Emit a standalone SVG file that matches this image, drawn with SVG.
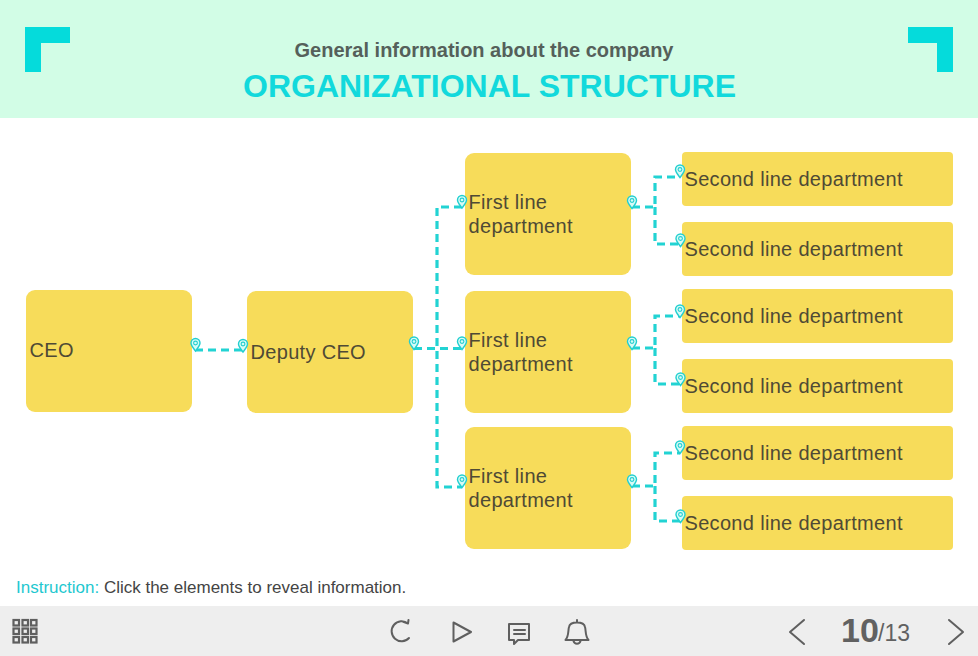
<svg xmlns="http://www.w3.org/2000/svg" xmlns:xlink="http://www.w3.org/1999/xlink" width="978" height="656" viewBox="0 0 978 656">
<style>
text{font-family:"Liberation Sans",Arial,sans-serif}
.n{fill:#f7dc5a}
.t{font-size:20px;fill:#4f4a35;letter-spacing:.32px}
.c{fill:none;stroke:#22d3d3;stroke-width:3.200;stroke-dasharray:8 5}
.i{fill:none;stroke:#5f5f5f;stroke-width:2;stroke-linejoin:round;stroke-linecap:round}
.p{fill:#05dbdb}
</style>
<defs>
<g id="pin"><path d="M0 6.500C-2.500 3-4.500 1-4.500-1.500A4.500 4.500 0 0 1 4.500-1.500C4.500 1 2.500 3 0 6.500Z" fill="#d8fbf6" stroke="#22cfd0" stroke-width="1.400"/><circle cy="-1.500" r="1.900" fill="none" stroke="#22cfd0" stroke-width="1.100"/></g>
</defs>
<rect width="978" height="118" fill="#d2fde6"/>
<path class="p" d="M25 27H70V43H41V72H25Z"/>
<path class="p" d="M953 27H908V43H937V72H953Z"/>
<text x="484" y="57" text-anchor="middle" font-size="20" font-weight="700" fill="#55605a">General information about the company</text>
<text x="489.500" y="97" text-anchor="middle" font-size="32" font-weight="700" fill="#12d9dc">ORGANIZATIONAL STRUCTURE</text>

<g id="ceo"><rect class="n" x="26" y="290" width="166" height="122" rx="9"/><text class="t" x="29.500" y="357">CEO</text></g>
<g id="deputy"><rect class="n" x="247" y="291" width="166" height="122" rx="9"/><text class="t" x="250.500" y="359">Deputy CEO</text></g>
<g id="first1"><rect class="n" x="465" y="153" width="166" height="122" rx="9"/><text class="t" x="468.500" y="209">First line</text><text class="t" x="468.500" y="233">department</text></g>
<g id="first2"><rect class="n" x="465" y="291" width="166" height="122" rx="9"/><text class="t" x="468.500" y="347">First line</text><text class="t" x="468.500" y="371">department</text></g>
<g id="first3"><rect class="n" x="465" y="427" width="166" height="122" rx="9"/><text class="t" x="468.500" y="483">First line</text><text class="t" x="468.500" y="507">department</text></g>
<g id="second1"><rect class="n" x="682" y="152" width="271" height="54" rx="4"/><text class="t" x="684.500" y="186">Second line department</text></g>
<g id="second2"><rect class="n" x="682" y="222" width="271" height="54" rx="4"/><text class="t" x="684.500" y="256">Second line department</text></g>
<g id="second3"><rect class="n" x="682" y="289" width="271" height="54" rx="4"/><text class="t" x="684.500" y="323">Second line department</text></g>
<g id="second4"><rect class="n" x="682" y="359" width="271" height="54" rx="4"/><text class="t" x="684.500" y="393">Second line department</text></g>
<g id="second5"><rect class="n" x="682" y="426" width="271" height="54" rx="4"/><text class="t" x="684.500" y="460">Second line department</text></g>
<g id="second6"><rect class="n" x="682" y="496" width="271" height="54" rx="4"/><text class="t" x="684.500" y="530">Second line department</text></g>

<g id="connectors">
<path class="c" d="M195 350H243"/>
<path class="c" d="M414 348.500H462"/>
<path class="c" d="M462 207H437V487H462"/>
<path class="c" d="M632 207H655V177H680"/>
<path class="c" d="M655 207V244H680"/>
<path class="c" d="M632 348H655V316H680"/>
<path class="c" d="M655 348V384H680"/>
<path class="c" d="M632 486H655V453H680"/>
<path class="c" d="M655 486V521H680"/>
<use href="#pin" x="195.500" y="344.500"/>
<use href="#pin" x="243" y="345.500"/>
<use href="#pin" x="414" y="343"/>
<use href="#pin" x="462" y="343"/>
<use href="#pin" x="462" y="201.500"/>
<use href="#pin" x="462" y="481"/>
<use href="#pin" x="632" y="202"/>
<use href="#pin" x="632" y="343"/>
<use href="#pin" x="632" y="481"/>
<use href="#pin" x="680" y="171"/>
<use href="#pin" x="680.500" y="240"/>
<use href="#pin" x="680" y="311"/>
<use href="#pin" x="680.500" y="379"/>
<use href="#pin" x="680" y="447"/>
<use href="#pin" x="680.500" y="516"/>
</g>

<text x="16" y="593" font-size="17" fill="#444"><tspan fill="#1fc8d0">Instruction:</tspan> Click the elements to reveal information.</text>

<rect y="606" width="978" height="50" fill="#eeeeee"/>
<g fill="none" stroke="#5f5f5f" stroke-width="2.200">
<rect x="13.500" y="620" width="5.500" height="5.500"/><rect x="22.500" y="620" width="5.500" height="5.500"/><rect x="31" y="620" width="5.500" height="5.500"/>
<rect x="13.500" y="628.500" width="5.500" height="5.500"/><rect x="22.500" y="628.500" width="5.500" height="5.500"/><rect x="31" y="628.500" width="5.500" height="5.500"/>
<rect x="13.500" y="637" width="5.500" height="5.500"/><rect x="22.500" y="637" width="5.500" height="5.500"/><rect x="31" y="637" width="5.500" height="5.500"/>
</g>
<path class="i" d="M408 623.500A10 10 0 1 0 409 638M402.500 621.500L408 623.500L408.500 620"/>
<path class="i" d="M453.500 622.500L471 632L453.500 641.500Z"/>
<path class="i" d="M509 624H529V640H518L514 644V640H509Z"/>
<path class="i" d="M514 630H525M514 634H525"/>
<path class="i" d="M565.500 640C569 636 568 630 569 627C570 621 584 621 585 627C586 630 585 636 588.500 640H565.500ZM577 620V622M573.500 641C574.500 644.500 579.500 644.500 580.500 641"/>
<path class="i" d="M804 620L790 632L804 644" stroke-width="3"/>
<path class="i" d="M949 620L963 632L949 644" stroke-width="3"/>
<text x="841" y="642" font-size="34" font-weight="700" fill="#616161">10</text>
<text x="878" y="641" font-size="23" fill="#616161">/13</text>
</svg>
